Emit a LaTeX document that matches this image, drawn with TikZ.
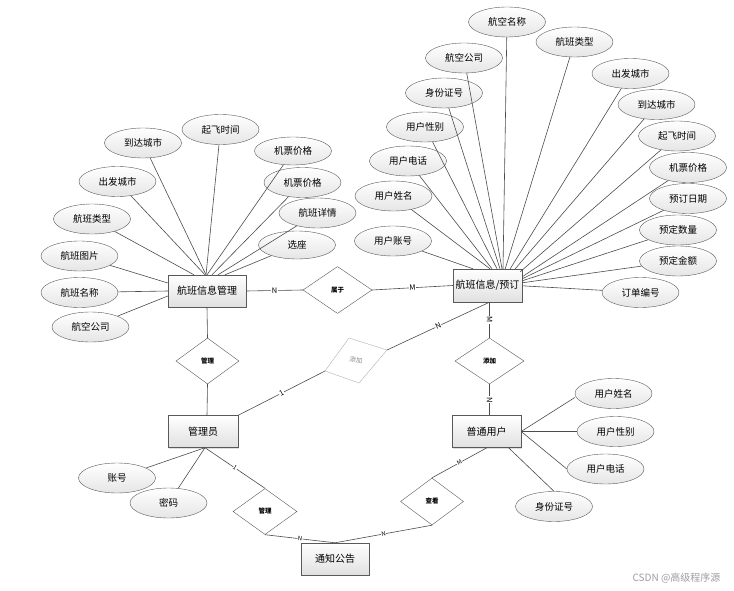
\documentclass[tikz,border=0pt]{standalone}
\usepackage{fontspec}
\setmainfont{Noto Sans CJK SC}
\usetikzlibrary{shapes.geometric,shadows}
\begin{document}
\begin{tikzpicture}[x=1pt,y=-1pt,
 ent/.style={draw=black!65, rectangle, minimum width=70pt, minimum height=32pt, top color=white, bottom color=black!12, font=\fontsize{10}{12}\selectfont, inner sep=1pt, drop shadow={opacity=0.25,shadow xshift=1pt,shadow yshift=-1pt}},
 attr/.style={draw=black!65, ellipse, minimum width=77pt, minimum height=30pt, inner sep=0pt, top color=white, bottom color=black!10, font=\fontsize{9.5}{11}\selectfont},
 rel/.style={draw=black!65, diamond, minimum width=64pt, minimum height=46pt, inner sep=0pt, fill=white, font=\fontsize{6.5}{8}\selectfont\bfseries},
 ln/.style={draw=black!70, line width=0.6pt},
 lbl/.style={fill=white, inner sep=0.6pt, font=\fontsize{7.5}{8}\selectfont, sloped},
 slbl/.style={fill=white, inner sep=0.4pt, font=\fontsize{6}{7}\selectfont, sloped}
]
\useasboundingbox[fill=white] (0,0) rectangle (734,591);

% entities
\node[ent, minimum width=78pt] (hbm) at (207,291) {航班信息管理};
\node[ent, minimum width=69pt, minimum height=33pt] (yd) at (487.5,285.5) {航班信息/预订};
\node[ent] (gly) at (203,431.5) {管理员};
\node[ent, minimum width=69pt] (pt) at (486.5,431.5) {普通用户};
\node[ent, minimum width=68pt] (tz) at (335,559) {通知公告};

% relations
\node[rel, minimum width=69pt, minimum height=47pt] (sy) at (337.5,290) {属于};
\node[rel, minimum width=63pt] (gla) at (207.5,361) {管理};
\node[rel, minimum width=69pt] (tjr) at (489.5,361) {添加};
\node[rel] (glb) at (265,511.5) {管理};
\node[rel, minimum width=63pt, minimum height=47pt] (ck) at (432,501.5) {查看};
\coordinate (tjT) at (349,338);
\coordinate (tjE) at (387,350);
\coordinate (tjB) at (359,383);
\coordinate (tjW) at (325,371);
\draw[draw=black!30, fill=white] (tjT) -- (tjE) -- (tjB) -- (tjW) -- cycle;
\node[text=black!45, font=\fontsize{6.5}{8}\selectfont, rotate=-10] (tjm) at (356,360.5) {添加};

% left attributes
\node[attr] (qf) at (220.5,129.5) {起飞时间};
\node[attr] (dd) at (143,143) {到达城市};
\node[attr] (cf) at (117.5,181.5) {出发城市};
\node[attr] (lx) at (92,219) {航班类型};
\node[attr] (tp) at (79.5,256) {航班图片};
\node[attr] (mc) at (79.5,292.5) {航班名称};
\node[attr] (gs) at (90.5,327) {航空公司};
\node[attr, minimum height=28pt] (jpa) at (293,151) {机票价格};
\node[attr] (jpb) at (302.5,182.5) {机票价格};
\node[attr] (xq) at (317.5,213) {航班详情};
\node[attr, minimum height=28pt] (xz) at (297,245) {选座};

% right attributes
\node[attr] (mcb) at (507,22) {航空名称};
\node[attr] (lxb) at (574.5,42) {航班类型};
\node[attr] (gsb) at (464,58) {航空公司};
\node[attr] (cfb) at (630.5,73.5) {出发城市};
\node[attr] (sfb) at (444,93) {身份证号};
\node[attr] (ddb) at (656.5,104.5) {到达城市};
\node[attr] (xbb) at (425,127) {用户性别};
\node[attr] (qfb) at (677,136) {起飞时间};
\node[attr] (dhb) at (408,161) {用户电话};
\node[attr] (jpc) at (688,167.5) {机票价格};
\node[attr] (xmb) at (393.5,196) {用户姓名};
\node[attr] (rq) at (688,198.5) {预订日期};
\node[attr] (sl) at (678,230) {预定数量};
\node[attr] (zhb) at (393,241) {用户账号};
\node[attr] (je) at (678,261) {预定金额};
\node[attr] (bh) at (640.5,292.5) {订单编号};

% admin attributes
\node[attr] (zh) at (117,478) {账号};
\node[attr] (mm) at (168.5,503) {密码};

% user attributes
\node[attr] (xmc) at (613.5,393.5) {用户姓名};
\node[attr] (xbc) at (615.5,431.5) {用户性别};
\node[attr] (dhc) at (605.5,469) {用户电话};
\node[attr] (sfc) at (554,506.5) {身份证号};

% left attribute lines
\draw[ln] (qf) -- ([xshift=-1pt]hbm.north);
\draw[ln] (dd) -- ([xshift=-1pt]hbm.north);
\draw[ln] (cf) -- ([xshift=-2pt]hbm.north);
\draw[ln] (lx) -- ([xshift=-13pt]hbm.north);
\draw[ln] (tp) -- ([yshift=8pt]hbm.west);
\draw[ln] (mc) -- (hbm.west);
\draw[ln] (gs) -- ([yshift=-5pt]hbm.west);
\draw[ln] (jpa) -- (hbm.north);
\draw[ln] (jpb) -- ([xshift=5pt]hbm.north);
\draw[ln] (xq) -- ([xshift=11pt]hbm.north);
\draw[ln] (xz) -- ([xshift=18pt]hbm.north);

% right attribute lines
\draw[ln] (zhb) -- ([xshift=-14.5pt]yd.north);
\draw[ln] (xmb) -- ([xshift=2.5pt]yd.north);
\draw[ln] (dhb) -- ([xshift=4.5pt]yd.north);
\draw[ln] (xbb) -- ([xshift=9.5pt]yd.north);
\draw[ln] (sfb) -- ([xshift=12.5pt]yd.north);
\draw[ln] (gsb) -- ([xshift=14.5pt]yd.north);
\draw[ln] (mcb) -- ([xshift=15.5pt]yd.north);
\draw[ln] (lxb) -- ([xshift=-17pt]yd.north east);
\draw[ln] (cfb) -- ([xshift=-12pt]yd.north east);
\draw[ln] (ddb) -- ([xshift=-7pt]yd.north east);
\draw[ln] (qfb) -- ([xshift=-2pt,yshift=-3pt]yd.north east);
\draw[ln] (jpc) -- ([yshift=-8pt]yd.north east);
\draw[ln] (rq) -- ([yshift=-10pt]yd.north east);
\draw[ln] (sl) -- ([yshift=-12pt]yd.north east);
\draw[ln] (je) -- ([yshift=-14pt]yd.north east);
\draw[ln] (bh) -- ([yshift=-17pt]yd.north east);

% admin / user attribute lines
\draw[ln] ([xshift=2pt]gly.south) -- (zh);
\draw[ln] ([xshift=2pt]gly.south) -- (mm);
\draw[ln] (pt.east) -- ([yshift=-4pt]xmc.west);
\draw[ln] (pt.east) -- (xbc.west);
\draw[ln] (pt.east) -- (dhc.west);
\draw[ln] ([xshift=22pt]pt.south) -- (sfc.north);

% relationship lines
\draw[ln] (hbm.east) -- node[lbl]{N} (sy.west);
\draw[ln] (sy.east) -- node[lbl]{M} (yd.west);
\draw[ln] (hbm.south) -- (gla.north);
\draw[ln] (gla.south) -- ([xshift=4pt]gly.north);
\draw[ln] (gly.north east) -- node[lbl]{1} (tjW);
\draw[ln] (tjE) -- node[lbl]{N} ([xshift=2pt]yd.south);
\draw[ln] ([xshift=2pt]yd.south) -- node[lbl]{M} (tjr.north);
\draw[ln] (tjr.south) -- node[lbl]{N} ([xshift=3pt]pt.south |- pt.north);
\draw[ln] ([xshift=2pt]gly.south) -- node[slbl]{1} (glb.north);
\draw[ln] (glb.south) -- node[slbl]{N} (tz.north);
\draw[ln] (tz.north) -- node[slbl]{N} (ck.south);
\draw[ln] (ck.north) -- node[slbl]{M} ([xshift=0.5pt]pt.south);

% watermark
\node[text=black!38, font=\fontsize{10}{12}\selectfont, anchor=east] (wm) at (724,578) {CSDN @高级程序源};
\end{tikzpicture}
\end{document}
